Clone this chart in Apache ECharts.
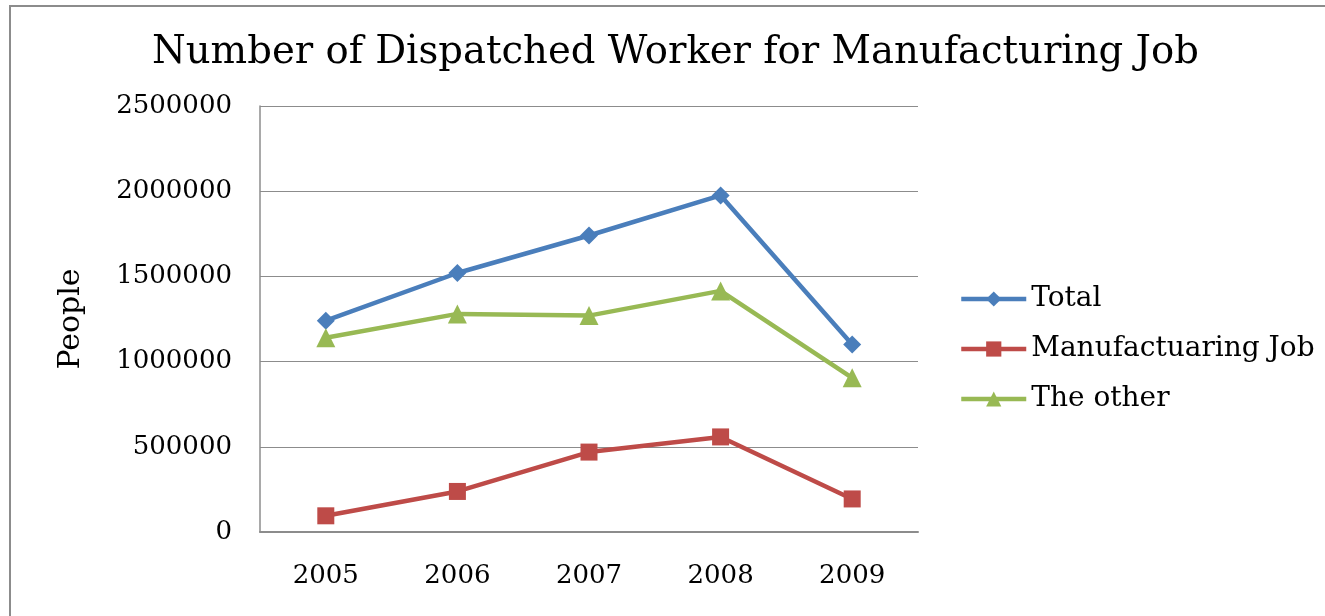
<!DOCTYPE html>
<html>
<head>
<meta charset="utf-8">
<script src="https://cdn.jsdelivr.net/npm/echarts@6/dist/echarts.min.js"></script>
<style>
html,body{margin:0;padding:0;background:#fff;}
#frame{position:absolute;left:9px;top:5px;width:1316px;height:611px;border-left:2px solid #8c8c8c;border-top:2px solid #8c8c8c;box-sizing:border-box;}
#chart{position:absolute;left:0;top:0;width:1325px;height:616px;}
</style>
</head>
<body>
<div id="frame"></div>
<div id="chart"></div>
<script>
const years = ['2005', '2006', '2007', '2008', '2009'];
const totalValues = [1240000, 1520000, 1740000, 1975000, 1100000];
const manufacturingValues = [95000, 238000, 469000, 558000, 194000];
const otherValues = [1140000, 1280000, 1270000, 1415000, 905000];
const seriesNames = ['Total', 'Manufactuaring Job', 'The other'];
const yTicks = [0, 500000, 1000000, 1500000, 2000000, 2500000];

const FONT = 'DejaVu Serif';
const chart = echarts.init(document.getElementById('chart'), null, {renderer: 'canvas'});
const colors = ['#4A7EBB', '#BE4B48', '#98B954'];
chart.setOption({
  animation: false,
  backgroundColor: 'transparent',
  color: colors,
  title: {
    text: 'Number of Dispatched Worker for Manufacturing Job',
    left: 147,
    top: 28,
    textStyle: {fontFamily: FONT, fontSize: 38.6, fontWeight: 'normal', color: '#000'}
  },
  legend: {
    orient: 'vertical',
    left: 954,
    top: 280,
    itemWidth: 65,
    itemHeight: 19,
    itemGap: 22,
    lineStyle: {width: 4.5},
    textStyle: {fontFamily: FONT, fontSize: 28, color: '#000'},
    data: seriesNames
  },
  grid: {left: 260, right: 407, top: 106, bottom: 84, containLabel: false},
  xAxis: {
    type: 'category',
    data: years,
    boundaryGap: true,
    axisLine: {lineStyle: {color: '#8c8c8c', width: 2}},
    axisTick: {show: false},
    axisLabel: {fontFamily: FONT, fontSize: 26, color: '#000', margin: 31}
  },
  yAxis: {
    type: 'value',
    min: yTicks[0],
    max: yTicks[yTicks.length - 1],
    interval: yTicks[1] - yTicks[0],
    name: 'People',
    nameLocation: 'middle',
    nameGap: 174,
    nameTextStyle: {fontFamily: FONT, fontSize: 30, color: '#000'},
    axisLine: {show: true, lineStyle: {color: '#8c8c8c', width: 1.5}},
    axisTick: {show: false},
    splitLine: {lineStyle: {color: '#8c8c8c', width: 1}},
    axisLabel: {fontFamily: FONT, fontSize: 26, color: '#000', margin: 28,
                formatter: function (v) { return String(v); }}
  },
  series: [
    {name: seriesNames[0], type: 'line', data: totalValues, symbol: 'diamond', symbolSize: 18,
     lineStyle: {width: 4.5, color: colors[0]}, itemStyle: {color: colors[0]}},
    {name: seriesNames[1], type: 'line', data: manufacturingValues, symbol: 'rect', symbolSize: 17,
     lineStyle: {width: 4.5, color: colors[1]}, itemStyle: {color: colors[1]}},
    {name: seriesNames[2], type: 'line', data: otherValues, symbol: 'triangle', symbolSize: 19,
     lineStyle: {width: 4.5, color: colors[2]}, itemStyle: {color: colors[2]}}
  ]
});
</script>
</body>
</html>
